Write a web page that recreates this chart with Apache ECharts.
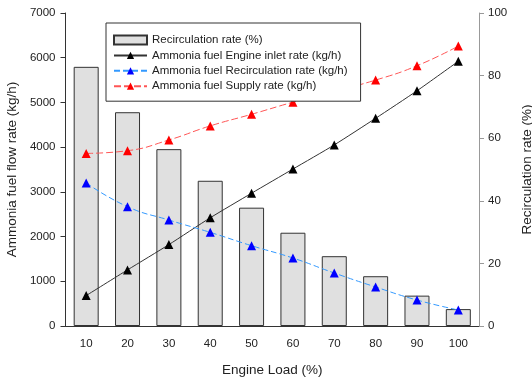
<!DOCTYPE html>
<html>
<head>
<meta charset="utf-8">
<script src="https://cdn.jsdelivr.net/npm/echarts@6/dist/echarts.min.js"></script>
<style>html,body{margin:0;padding:0;background:#fff}#c{width:532px;height:378px}</style>
</head>
<body>
<div id="c"></div>
<script>
const categories = ['10','20','30','40','50','60','70','80','90','100'];
const recirculationRate = [82.8, 68.3, 56.5, 46.4, 37.8, 29.8, 22.3, 15.9, 9.7, 5.4];
const engineInlet = [680, 1255, 1820, 2420, 2970, 3510, 4050, 4645, 5260, 5920];
const recirculationFlow = [3200, 2668, 2370, 2094, 1796, 1520, 1185, 872, 581, 358];
const supplyFlow = [3860, 3920, 4160, 4475, 4735, 5005, 5250, 5500, 5820, 6260];
const leftTicks = {min: 0, max: 7000, interval: 1000};
const rightTicks = {min: 0, max: 100, interval: 20};

const font = 'Liberation Sans, Arial, sans-serif';
const chart = echarts.init(document.getElementById('c'));
chart.setOption({
  animation: false,
  textStyle: {fontFamily: font, color: '#222'},
  grid: {left: 65.5, right: 53, top: 13, bottom: 52, containLabel: false, outerBoundsMode: 'none'},
  legend: {
    orient: 'vertical', left: 106, top: 23,
    backgroundColor: '#fff', borderColor: '#333', borderWidth: 1,
    padding: [11, 13, 9, 7], itemWidth: 33, itemHeight: 9, itemGap: 3.4,
    textStyle: {fontSize: 11.5, color: '#222', fontFamily: font},
    data: [
      {name: 'Recirculation rate (%)', icon: 'rect'},
      'Ammonia fuel Engine inlet rate (kg/h)',
      'Ammonia fuel Recirculation rate (kg/h)',
      'Ammonia fuel Supply rate (kg/h)'
    ]
  },
  xAxis: [{
    type: 'category', data: categories, boundaryGap: true,
    name: 'Engine Load (%)', nameLocation: 'middle', nameGap: 37,
    nameTextStyle: {fontSize: 13.5, color: '#222'},
    axisLine: {lineStyle: {color: '#999', width: 1}},
    axisTick: {alignWithLabel: true, length: 5, lineStyle: {color: '#999'}},
    axisLabel: {fontSize: 11.5, color: '#222', margin: 12}
  }, {
    type: 'category', data: categories, position: 'top',
    axisLine: {lineStyle: {color: '#333', width: 1}},
    axisTick: {show: false}, axisLabel: {show: false}
  }],
  yAxis: [{
    type: 'value', min: leftTicks.min, max: leftTicks.max, interval: leftTicks.interval,
    name: 'Ammonia fuel flow rate (kg/h)', nameLocation: 'middle', nameGap: 46,
    nameTextStyle: {fontSize: 13.5, color: '#222'},
    axisLine: {show: true, lineStyle: {color: '#333'}},
    axisTick: {show: true, length: 5, lineStyle: {color: '#333'}},
    axisLabel: {fontSize: 11.5, color: '#222', margin: 10, formatter: v => String(v)},
    splitLine: {show: false}
  }, {
    type: 'value', min: rightTicks.min, max: rightTicks.max, interval: rightTicks.interval,
    position: 'right',
    name: 'Recirculation rate (%)', nameLocation: 'middle', nameGap: 41, nameRotate: 90,
    nameTextStyle: {fontSize: 13.5, color: '#222'},
    axisLine: {show: true, lineStyle: {color: '#999'}},
    axisTick: {show: true, length: 5, lineStyle: {color: '#999'}},
    axisLabel: {fontSize: 11.5, color: '#222', margin: 9},
    splitLine: {show: false}
  }],
  series: [{
    name: 'Recirculation rate (%)', type: 'bar', yAxisIndex: 1, data: recirculationRate,
    barWidth: 25, itemStyle: {color: '#e0e0e0', borderColor: '#333', borderWidth: 1}, z: 1
  }, {
    name: 'Ammonia fuel Engine inlet rate (kg/h)', type: 'line', yAxisIndex: 0, data: engineInlet,
    symbol: 'triangle', symbolSize: 9, smooth: 0.2,
    lineStyle: {color: '#333', width: 1}, itemStyle: {color: '#000'}, z: 3
  }, {
    name: 'Ammonia fuel Recirculation rate (kg/h)', type: 'line', yAxisIndex: 0, data: recirculationFlow,
    symbol: 'triangle', symbolSize: 9, smooth: true,
    lineStyle: {color: '#3399ff', width: 1, type: [6, 3]}, itemStyle: {color: '#0000ff'}, z: 3
  }, {
    name: 'Ammonia fuel Supply rate (kg/h)', type: 'line', yAxisIndex: 0, data: supplyFlow,
    symbol: 'triangle', symbolSize: 9, smooth: true,
    lineStyle: {color: '#ff5555', width: 1, type: [7, 3]}, itemStyle: {color: '#ff0000'}, z: 3
  }]
});
</script>
</body>
</html>
